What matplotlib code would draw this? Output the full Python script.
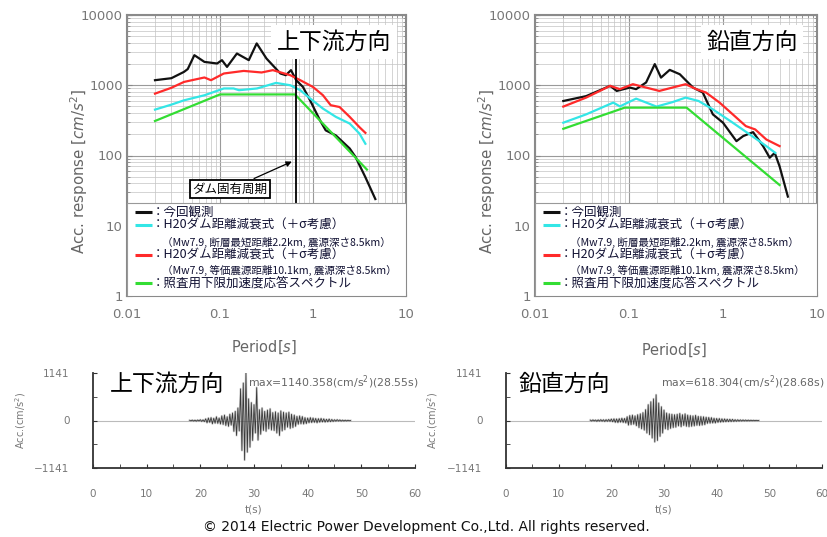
import numpy as np
import matplotlib
matplotlib.use('Agg')
import matplotlib.pyplot as plt
from matplotlib.patches import Rectangle
from matplotlib.ticker import FixedLocator, FixedFormatter, LogLocator, NullFormatter

plt.rcParams['font.family'] = ['DejaVu Sans', 'Noto Sans CJK JP']
JP = ['Noto Sans CJK JP', 'DejaVu Sans']

# ---- response spectra, upstream-downstream direction (period [s], acc [cm/s2])
ud_obs_T = [0.02, 0.03, 0.041, 0.045, 0.053, 0.068, 0.093, 0.105, 0.119, 0.152, 0.204, 0.248,
            0.316, 0.446, 0.51, 0.58, 0.66, 0.78, 0.93, 1.19, 1.37, 1.76, 2.48, 2.87, 3.66, 4.68]
ud_obs_A = [1180, 1260, 1550, 1700, 2680, 2150, 2040, 2275, 1825, 2830, 2275, 3940,
            2400, 1470, 1390, 1640, 1180, 945, 610, 316, 228, 193, 126, 95, 49, 24]
ud_near_T = [0.02, 0.03, 0.041, 0.068, 0.11, 0.14, 0.16, 0.25, 0.40, 0.57, 0.73, 0.93,
             1.28, 1.76, 2.48, 3.16, 3.66]
ud_near_A = [450, 530, 610, 720, 900, 900, 850, 900, 1080, 1000, 850, 650,
             465, 355, 285, 205, 147]
ud_equiv_T = [0.02, 0.03, 0.041, 0.068, 0.08, 0.11, 0.18, 0.28, 0.37, 0.57, 0.73, 1.0,
              1.28, 1.55, 1.93, 2.48, 3.16, 3.66]
ud_equiv_A = [760, 920, 1115, 1290, 1180, 1470, 1600, 1520, 1640, 1390, 1180, 945,
              720, 520, 490, 355, 253, 210]
ud_lower_T = [0.02, 0.1, 0.64, 3.8]
ud_lower_A = [310, 740, 740, 63]
dam_period = 0.65

# ---- response spectra, vertical direction
v_obs_T = [0.02, 0.035, 0.063, 0.074, 0.102, 0.119, 0.152, 0.188, 0.219, 0.271, 0.347, 0.48,
           0.61, 0.78, 1.0, 1.39, 1.64, 2.09, 2.67, 3.14, 3.55, 4.0, 4.9]
v_obs_A = [597, 700, 980, 830, 927, 880, 1095, 2000, 1285, 1655, 1435, 927,
           787, 385, 293, 160, 189, 215, 136, 93, 109, 70, 26]
v_near_T = [0.02, 0.035, 0.068, 0.08, 0.119, 0.196, 0.29, 0.40, 0.55, 0.78, 1.27, 1.92, 2.89, 3.6]
v_near_A = [293, 385, 566, 500, 645, 497, 575, 667, 597, 454, 293, 200, 136, 109]
v_equiv_T = [0.02, 0.035, 0.063, 0.08, 0.11, 0.152, 0.21, 0.29, 0.40, 0.52, 0.66, 0.92,
             1.27, 1.75, 2.2, 2.89, 4.0]
v_equiv_A = [497, 667, 980, 880, 1035, 927, 830, 927, 1035, 880, 787, 566,
             385, 262, 235, 169, 136]
v_lower_T = [0.02, 0.09, 0.41, 4.0]
v_lower_A = [240, 480, 480, 38]

# ---- acceleration time histories (read every 0.25 s)
ud_wave_t0 = 18.0
ud_wave = [5, -8, 10, -12, 8, -15, 12, -10, 18, -20, 15, -25,
           40, -55, 60, -45, 70, -80, 55, -65, 90, -70, 60, -85,
           110, -95, 130, -120, 90, -140, 150, -110,
           180, -260, 220, -360, 300, -250,
           760, -720, 900, -950,
           1140, -760,
           520, -640, 430, -480,
           380, -300, 790, -470,
           260, -330, 300, -240,
           220, -260, 250, -200, 280, -230, 190, -240,
           210, -300, 180, -360, 230, -250, 200, -220,
           180, -160, 200, -190, 150, -170, 130, -140,
           100, -90, 110, -80, 95, -85, 70, -75,
           60, -55, 70, -50, 60, -45, 50, -55,
           45, -40, 50, -35, 40, -38, 30, -32, 35, -28, 25, -22,
           18, -15, 20, -12, 15, -14, 10, -12, 8, -10, 6, -5, 0]
v_wave_t0 = 16.0
v_wave = [10, -12, 15, -10, 12, -18, 15, -14, 20, -16, 18, -22, 20, -18, 25, -20,
          35, -30, 40, -45, 38, -50, 45, -40, 55, -48, 50, -60,
          90, -110, 120, -100, 130, -90, 110, -125,
          140, -170, 160, -200, 190, -230, 260,
          -300, 380, -340, 450, -420,
          520, -515, 618, -480,
          420, -380, 330, -300,
          250, -200, 180, -220, 160, -190, 150, -170,
          140, -160, 150, -130, 170, -150, 140, -120, 160, -140, 130, -150,
          120, -140, 110, -130, 125, -115, 100, -120, 95, -110, 90, -100,
          80, -70, 75, -65, 70, -60, 55, -60, 50, -45, 48, -40,
          40, -35, 38, -30, 32, -28, 30, -25, 28, -22, 20, -18,
          18, -15, 15, -12, 14, -10, 12, -10, 10, -8, 8, -6, 6, -5, 4, -3, 0]
wave_dt = 0.25
acc_lim = 1141

legend_rows = [
    ('#111111', '：今回観測', False),
    ('#33e6e6', '：H20ダム距離減衰式（＋σ考慮）', False),
    (None, '（Mw7.9, 断層最短距離2.2km, 震源深さ8.5km）', True),
    ('#ff2a2a', '：H20ダム距離減衰式（＋σ考慮）', False),
    (None, '（Mw7.9, 等価震源距離10.1km, 震源深さ8.5km）', True),
    ('#33dd33', '：照査用下限加速度応答スペクトル', False),
]

W, H = 828, 537
fig = plt.figure(figsize=(W / 100, H / 100), dpi=100)


def px_axes(x0, y0, x1, y1):
    return fig.add_axes([x0 / W, 1 - y1 / H, (x1 - x0) / W, (y1 - y0) / H])


def spectrum(ax, curves, title, title_xy):
    ax.set_xscale('log')
    ax.set_yscale('log')
    ax.set_xlim(0.01, 10)
    ax.set_ylim(1, 10000)
    for (T, A), color in zip(curves, ['#111111', '#33e6e6', '#ff2a2a', '#33dd33']):
        ax.plot(T, A, color=color, lw=1.6, zorder=2)
    ax.xaxis.set_major_locator(FixedLocator([0.01, 0.1, 1, 10]))
    ax.xaxis.set_major_formatter(FixedFormatter(['0.01', '0.1', '1', '10']))
    ax.yaxis.set_major_locator(FixedLocator([1, 10, 100, 1000, 10000]))
    ax.yaxis.set_major_formatter(FixedFormatter(['1', '10', '100', '1000', '10000']))
    for a in (ax.xaxis, ax.yaxis):
        a.set_minor_locator(LogLocator(base=10, subs=np.arange(2, 10)))
        a.set_minor_formatter(NullFormatter())
    ax.grid(True, which='major', color='#9a9a9a', lw=0.8)
    ax.grid(True, which='minor', color='#c4c4c4', lw=0.5)
    ax.tick_params(which='both', direction='in', top=True, right=True, colors='#888888',
                   labelcolor='#777777', labelsize=9.5)
    ax.tick_params(axis='x', which='major', pad=9)
    ax.tick_params(axis='y', which='major', pad=3)
    for s in ax.spines.values():
        s.set_color('#8a8a8a')
        s.set_linewidth(1.5)
    # legend block
    ax.add_patch(Rectangle((0, 0), 1, 0.331, transform=ax.transAxes, fc='white',
                           ec='#999999', lw=0.8, zorder=3))
    ys = [0.299, 0.253, 0.192, 0.146, 0.0925, 0.046]
    for (color, text, indent), y in zip(legend_rows, ys):
        if color:
            ax.plot([0.029, 0.090], [y, y], color=color, lw=2.2, transform=ax.transAxes,
                    zorder=4, solid_capstyle='butt')
        ax.text(0.125 if indent else 0.088, y, text, transform=ax.transAxes,
                fontsize=7.6 if indent else 9.0, family=JP, va='center', ha='left',
                color='#111133', zorder=5)
    ax.text(title_xy[0], title_xy[1], title, transform=ax.transAxes, family=JP,
            fontsize=16.5, ha='center', va='center', zorder=5,
            bbox=dict(boxstyle='square,pad=0.25', fc='white', ec='none'))


# ---------------- top left
ax1 = px_axes(127, 15, 406, 296)
spectrum(ax1, [(ud_obs_T, ud_obs_A), (ud_near_T, ud_near_A),
               (ud_equiv_T, ud_equiv_A), (ud_lower_T, ud_lower_A)],
         '上下流方向', ((334 - 127) / 279, (296 - 42) / 281))
ax1.vlines(dam_period, 20, 2600, color='black', lw=1.3, zorder=2.5)
ax1.annotate('ダム固有周期', xy=(dam_period * 0.97, 85), xytext=(0.128, 33),
             family=JP, fontsize=9, ha='center', va='center', zorder=5,
             bbox=dict(boxstyle='square,pad=0.2', fc='white', ec='black', lw=1.3),
             arrowprops=dict(arrowstyle='-|>', color='black', lw=0.9, mutation_scale=8))

# ---------------- top right
ax2 = px_axes(535, 15, 817, 296)
spectrum(ax2, [(v_obs_T, v_obs_A), (v_near_T, v_near_A),
               (v_equiv_T, v_equiv_A), (v_lower_T, v_lower_A)],
         '鉛直方向', ((752 - 535) / 282, (296 - 42) / 281))

ylab = r'Acc. response [$cm/s^2$]'
fig.text(79 / W, 1 - 171 / H, ylab, rotation=90, ha='center', va='center',
         fontsize=10.8, color='#666666')
fig.text(487 / W, 1 - 171 / H, ylab, rotation=90, ha='center', va='center',
         fontsize=10.8, color='#666666')
fig.text(264 / W, 1 - 347 / H, r'Period[$s$]', ha='center', va='center',
         fontsize=10.5, color='#666666')
fig.text(674 / W, 1 - 350 / H, r'Period[$s$]', ha='center', va='center',
         fontsize=10.5, color='#666666')


# ---------------- bottom waveforms
def waveform(ax, t0, values, title, title_x, maxtext):
    t = t0 + wave_dt * np.arange(len(values))
    ax.axhline(0, color='#bbbbbb', lw=0.8, zorder=1)
    ax.plot(t, values, color='#999999', lw=1.6, alpha=0.45, zorder=1.5)
    ax.plot(t, values, color='#2a2a2a', lw=0.6, alpha=0.9, zorder=2)
    ax.set_xlim(0, 60)
    ax.set_ylim(-acc_lim, acc_lim)
    ax.set_xticks(np.arange(0, 61, 10))
    ax.set_xticks(np.arange(5, 60, 10), minor=True)
    ax.set_yticks([-acc_lim, 0, acc_lim])
    ax.set_yticklabels(['\u22121141', '0', '1141'])
    ax.set_yticks([-acc_lim / 2, acc_lim / 2], minor=True)
    ax.tick_params(which='both', direction='in', colors='#333333', labelcolor='#777777',
                   labelsize=7.5, length=3)
    ax.tick_params(axis='x', pad=15)
    ax.tick_params(axis='y', pad=17)
    for s in ['top', 'right']:
        ax.spines[s].set_visible(False)
    for s in ['left', 'bottom']:
        ax.spines[s].set_color('#333333')
        ax.spines[s].set_linewidth(1.3)
    ax.set_xlabel('t(s)', fontsize=7.5, color='#777777', labelpad=4)
    ax.text(title_x, 0.88, title, transform=ax.transAxes, family=JP, fontsize=16.5,
            ha='left', va='center')
    ax.text(1.01, 0.9, maxtext, transform=ax.transAxes, fontsize=7.8, color='#666666',
            ha='right', va='center')


ax3 = px_axes(93, 373, 415, 468)
waveform(ax3, ud_wave_t0, ud_wave, '上下流方向', (110 - 93) / 322,
         r'max=1140.358(cm/s$^2$)(28.55s)')
ax4 = px_axes(506, 373, 822, 468)
waveform(ax4, v_wave_t0, v_wave, '鉛直方向', (519 - 506) / 316,
         r'max=618.304(cm/s$^2$)(28.68s)')
fig.text(21 / W, 1 - 420 / H, r'Acc.(cm/s$^2$)', rotation=90, ha='center', va='center',
         fontsize=7, color='#777777')
fig.text(433 / W, 1 - 420 / H, r'Acc.(cm/s$^2$)', rotation=90, ha='center', va='center',
         fontsize=7, color='#777777')

fig.text(426 / W, 1 - 527 / H,
         '\u00a9 2014 Electric Power Development Co.,Ltd. All rights reserved.',
         ha='center', va='center', fontsize=10, color='#111111')

fig.savefig('out.png', dpi=100)
